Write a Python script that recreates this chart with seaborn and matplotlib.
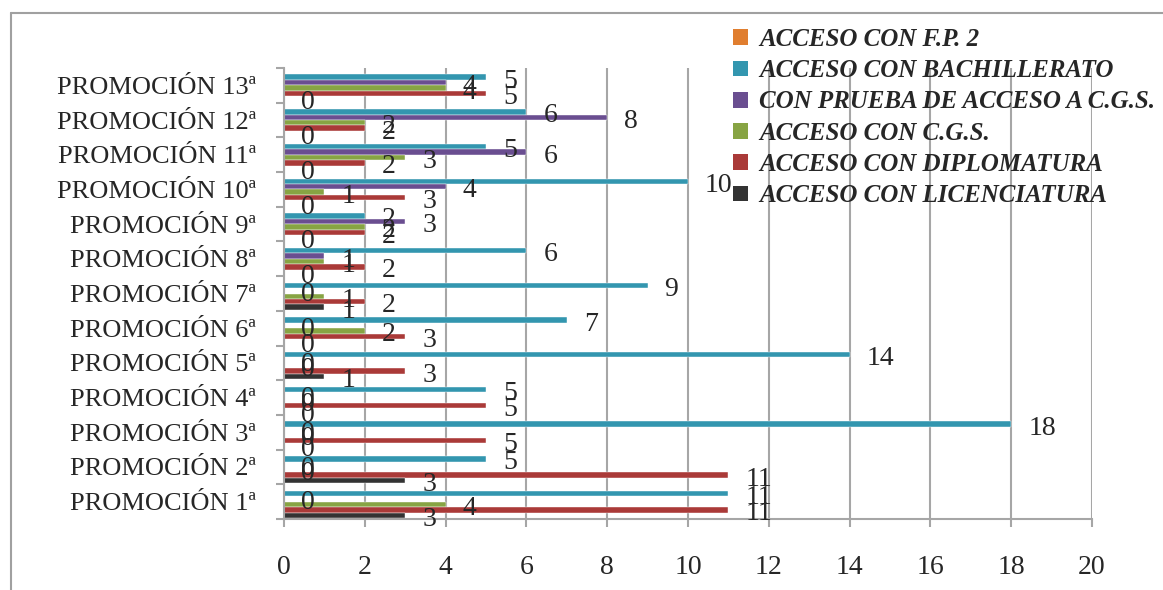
import numpy as np
import pandas as pd
import matplotlib.pyplot as plt
import seaborn as sns
from matplotlib.patches import Patch
from matplotlib.lines import Line2D

# ─── Data (promoción 1ª → 13ª) ────────────────────────────
promociones = [f"PROMOCIÓN {i}ª" for i in range(1, 14)]

licenciatura = [3, 3, 0, 0, 1, 0, 1, 0, 0, 0, 0, 0, 0]
diplomatura  = [11, 11, 5, 5, 3, 3, 2, 2, 2, 3, 2, 2, 5]
cgs          = [4, 0, 0, 0, 0, 2, 1, 1, 2, 1, 3, 2, 4]
prueba_cgs   = [0, 0, 0, 0, 0, 0, 0, 1, 3, 4, 6, 8, 4]
bachillerato = [11, 5, 18, 5, 14, 7, 9, 6, 2, 10, 5, 6, 5]
fp2          = [np.nan] * 13   # sin datos

series = {
    "ACCESO CON F.P. 2":                fp2,
    "ACCESO CON BACHILLERATO":          bachillerato,
    "CON PRUEBA DE ACCESO A C.G.S.":    prueba_cgs,
    "ACCESO CON C.G.S.":                cgs,
    "ACCESO CON DIPLOMATURA":           diplomatura,
    "ACCESO CON LICENCIATURA":          licenciatura,
}
colors = ["#E07E2F", "#3396AF", "#6A4E90", "#87A443", "#AA3A38", "#333333"]
hue_order = list(series.keys())
palette = dict(zip(hue_order, colors))

rows = []
for name, vals in series.items():
    for promo, v in zip(promociones, vals):
        rows.append({"promocion": promo, "serie": name, "valor": v})
df = pd.DataFrame(rows).dropna()

# ─── Style ────────────────────────────────────────────────
GRID = "#A6A6A6"
TEXT = "#262626"
sns.set_theme(style="white")
plt.rcParams["font.family"] = ["Liberation Serif", "DejaVu Serif"]

fig = plt.figure(figsize=(11.63, 5.90), dpi=100)
ax = fig.add_axes([284 / 1163, 1 - 519 / 590, 808 / 1163, 451 / 590])

sns.barplot(data=df, x="valor", y="promocion", hue="serie",
            order=promociones[::-1], hue_order=hue_order, palette=palette,
            orient="h", width=0.94, saturation=1, errorbar=None,
            legend=False, ax=ax, edgecolor="white", linewidth=0.3)

# data labels
for cont in ax.containers:
    for bar in cont:
        w = bar.get_width()
        if np.isnan(w):
            continue
        y = bar.get_y() + bar.get_height() / 2
        ax.annotate(f"{w:.0f}", xy=(w, y), xytext=(17, -4),
                    textcoords="offset pixels", ha="left", va="center",
                    fontsize=20, color=TEXT)

# axes
ax.set_xlim(0, 20)
ax.set_ylim(12.5, -0.5)
ax.set_xticks(np.arange(0, 21, 2))
ax.set_yticks(np.arange(-0.5, 13, 1), minor=True)
ax.set_xlabel("")
ax.set_ylabel("")
ax.grid(axis="x", color=GRID, lw=1.5)
ax.set_axisbelow(True)
for side in ["top", "right"]:
    ax.spines[side].set_visible(False)
for side in ["left", "bottom"]:
    ax.spines[side].set_color(GRID)
    ax.spines[side].set_linewidth(1.5)
ax.tick_params(axis="x", which="major", direction="out", length=6, width=1.5,
               color=GRID, labelsize=20, labelcolor=TEXT, pad=20, bottom=True)
ax.tick_params(axis="y", which="major", length=0, labelsize=19,
               labelcolor=TEXT, pad=20)
ax.tick_params(axis="y", which="minor", direction="out", length=6, width=1.5,
               color=GRID, left=True)

# legend
handles = [Patch(facecolor=c, edgecolor="none") for c in colors]
fig.legend(handles, hue_order, loc="upper left",
           bbox_to_anchor=(733 / 1163, 1 - 28 / 590), frameon=False,
           prop={"weight": "bold", "style": "italic", "size": 18},
           handlelength=0.6, handleheight=0.6, handletextpad=0.45,
           labelspacing=0.33, borderpad=0, borderaxespad=0)

# outer chart frame
fig.add_artist(Line2D([11 / 1163, 11 / 1163], [0, 1 - 13 / 590],
                      transform=fig.transFigure, color="#A0A0A0", lw=1.5))
fig.add_artist(Line2D([11 / 1163, 1], [1 - 13 / 590, 1 - 13 / 590],
                      transform=fig.transFigure, color="#A0A0A0", lw=1.5))

plt.savefig("out.png", dpi=100)
